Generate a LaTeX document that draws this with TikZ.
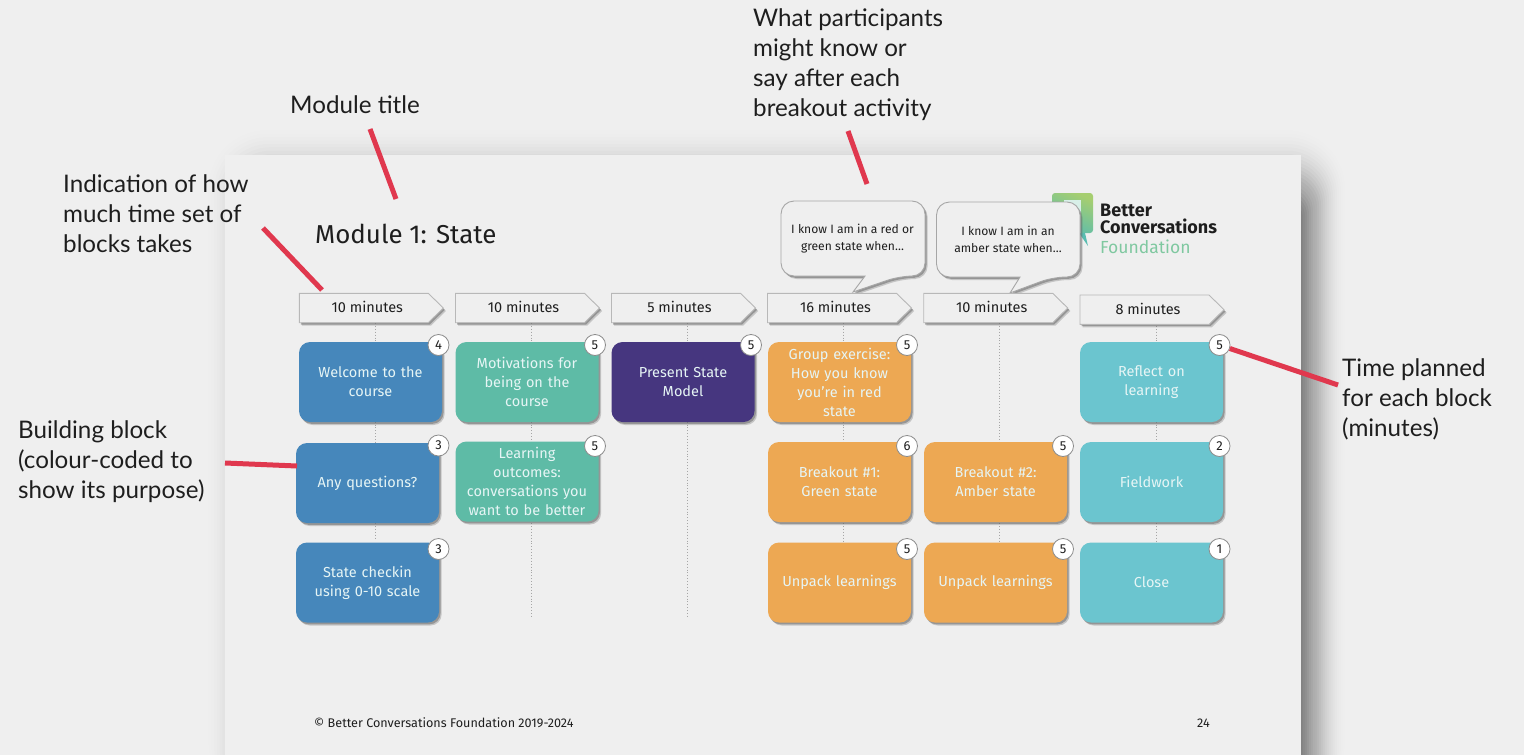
\documentclass[tikz,border=0pt]{standalone}
\usepackage{fontspec}
\setmainfont{Fira Sans}
\newfontfamily\notefont{Lato}
\usetikzlibrary{shadows,calc}
\definecolor{bgc}{HTML}{EFEFEF}
\definecolor{blockblue}{HTML}{4687BB}
\definecolor{blockgreen}{HTML}{5EBBA6}
\definecolor{blockpurple}{HTML}{46367F}
\definecolor{blockorange}{HTML}{EDA853}
\definecolor{blockteal}{HTML}{6BC5CF}
\definecolor{redline}{HTML}{E0384E}
\definecolor{inktext}{HTML}{1E1E1E}
\definecolor{blocktext}{HTML}{E6F5F5}
\definecolor{logoA}{HTML}{A6CE70}
\definecolor{logoB}{HTML}{58BCB0}
\definecolor{logopale}{HTML}{D8EFE8}
\definecolor{logogreen}{HTML}{7FC8A0}
\tikzset{
  x=1pt,y=-1pt,
  softshadow/.style={drop shadow={shadow xshift=2.6pt,shadow yshift=-3pt,fill=black!60,opacity=.3},
    drop shadow={shadow xshift=1.5pt,shadow yshift=-1.8pt,fill=black!60,opacity=.5}},
  blockbox/.style={rounded corners=11pt,minimum width=143pt,minimum height=80pt,inner sep=0pt,outer sep=0pt,
    text width=134pt,align=center,text=blocktext,font=\fontsize{14.5}{19}\selectfont,softshadow},
  badge/.style={circle,fill=white,draw=black!45,line width=.8pt,minimum size=21pt,inner sep=0pt,text=inktext,font=\fontsize{13}{13}\selectfont},
  tagbox/.style={fill=bgc,draw=black!28,line width=.9pt,softshadow},
  taglabel/.style={inner sep=0pt,text=inktext,font=\fontsize{14.5}{17}\selectfont},
  calloutbox/.style={fill=bgc,draw=black!35,line width=.9pt,rounded corners=13pt,softshadow},
  calloutlabel/.style={inner sep=0pt,align=center,text=inktext,font=\fontsize{12.1}{17.2}\selectfont},
  guide/.style={draw=black!35,dotted,line width=.9pt},
  pointer/.style={draw=redline,line width=5pt},
  note/.style={inner sep=0pt,anchor=north west,align=left,text=inktext,font=\notefont\fontsize{24.2}{30}\selectfont},
}
\newcommand{\tagat}[4]{% name, left x, top y, text
  \draw[tagbox] (#2,#3) -- ++(129,0) -- ++(15,14.7) -- ++(-15,14.7) -- ++(-129,0) -- cycle;
  \node[taglabel] (#1) at (#2+68,#3+13.7) {#4};}
\begin{document}
\begin{tikzpicture}
\useasboundingbox (0,0) rectangle (1524,755);
\fill[bgc] (0,0) rectangle (1524,755);
% soft page shadow, built from stacked translucent layers
\foreach \d in {0,2,...,44}{
  \pgfmathsetmacro{\op}{.045-.00095*\d}
  \fill[black,opacity=\op,rounded corners=14pt+\d pt] ({270-1.4*\d},{205-1.7*\d}) rectangle ({1301+\d},800);
}
\fill[bgc] (225,155) rectangle (1301,755);
% logo
\shade[left color=logoA,right color=logoB,shading angle=-25,rounded corners=3pt] (1052,193) rectangle (1093,233);
\fill[logoB] (1079,233) -- (1088,246) -- (1085,233) -- cycle;
\fill[logopale] (1064,200) rectangle (1081,233);
\node[inner sep=0pt,anchor=north west,align=left,font=\fontsize{18}{17.3}\selectfont\bfseries,text=inktext] (logo) at (1100,203.5) {Better\\Conversations};
\node[inner sep=0pt,anchor=north west,font=\fontsize{17.5}{18}\selectfont,text=logogreen] (logoc) at (1100,240) {Foundation};
% title
\node[inner sep=0pt,anchor=west,text=inktext,font=\fontsize{25.9}{30}\selectfont] (title) at (315,234) {Module 1: State};
% guide end points
\foreach \n/\x/\e in {a/375/540,b/531/617,c/687/617,d/843/543,e/999/543,f/1156/543}{
  \coordinate (top\n) at (\x,323);
  \coordinate (bot\n) at (\x,\e);
  \draw[guide] (top\n) -- (bot\n);
}
% callouts
\draw[calloutbox] (781,201) -- (925,201) -- (925,276) -- (900,276) [sharp corners] -- (853,292) -- (865,276) [rounded corners=13pt] -- (781,276) -- cycle;
\node[calloutlabel] (callA) at (852.5,238.5) {I know I am in a red or\\green state when…};
\draw[calloutbox] (936.5,202) -- (1080,202) -- (1080,277) -- (1053,277) [sharp corners] -- (1010,293) -- (1020,277) [rounded corners=13pt] -- (936.5,277) -- cycle;
\node[calloutlabel] (callB) at (1008,239.5) {I know I am in an\\amber state when…};
% tags
\tagat{tagA}{299.3}{293.3}{10 minutes}
\tagat{tagB}{455.5}{293.3}{10 minutes}
\tagat{tagC}{611.5}{293.3}{5 minutes}
\tagat{tagD}{767.5}{293.3}{16 minutes}
\tagat{tagE}{923.7}{293.3}{10 minutes}
\tagat{tagF}{1080}{295}{8 minutes}
% blocks
\node[blockbox,fill=blockblue] (b1) at (370.5,382) {Welcome to the\\course};
\node[blockbox,fill=blockblue] (b2) at (367.5,483) {Any questions?};
\node[blockbox,fill=blockblue] (b3) at (367.5,582.5) {State checkin\\using 0-10 scale};
\node[blockbox,fill=blockgreen] (b4) at (527,382) {Motivations for\\being on the\\course};
\node[blockbox,fill=blockgreen] (b5) at (527,481.5) {Learning\\outcomes:\\conversations you\\want to be better};
\node[blockbox,fill=blockpurple] (b6) at (683,382) {Present State\\Model};
\node[blockbox,fill=blockorange] (b7) at (839.5,382) {Group exercise:\\How you know\\you’re in red\\state};
\node[blockbox,fill=blockorange] (b8) at (839.5,482) {Breakout \#1:\\Green state};
\node[blockbox,fill=blockorange] (b9) at (839.5,582.5) {Unpack learnings};
\node[blockbox,fill=blockorange] (b10) at (995.5,482) {Breakout \#2:\\Amber state};
\node[blockbox,fill=blockorange] (b11) at (995.5,582.5) {Unpack learnings};
\node[blockbox,fill=blockteal] (b12) at (1151.5,382) {Reflect on\\learning};
\node[blockbox,fill=blockteal] (b13) at (1151.5,482) {Fieldwork};
\node[blockbox,fill=blockteal] (b14) at (1151.5,582.5) {Close};
% badges
\foreach \n/\x/\y/\t in {n1/438.5/345/4,n2/438.5/445.5/3,n3/438.5/549/3,n4/595/345/5,n5/595/446/5,n6/751/345/5,n7/907/345/5,n8/907/446/6,n9/907/549/5,n10/1063/446/5,n11/1063/549/5,n12/1219.5/345/5,n13/1219.5/446/2,n14/1219.5/549/1}{
  \node[badge] (\n) at (\x,\y) {\t};
}
% footer
\node[inner sep=0pt,anchor=west,text=inktext,font=\fontsize{12.6}{14}\selectfont] (foot) at (314,723) {© Better Conversations Foundation 2019-2024};
\node[inner sep=0pt,text=inktext,font=\fontsize{12.6}{14}\selectfont] (pageno) at (1203.5,723) {24};
% annotations
\node[note] (nA) at (290,95) {Module title};
\node[note] (nB) at (63,174) {Indication of how\\much time set of\\blocks takes};
\node[note] (nC) at (753,8.5) {What participants\\might know or\\say after each\\breakout activity};
\node[note] (nD) at (18,420) {Building block\\(colour-coded to\\show its purpose)};
\node[note] (nE) at (1342,358.5) {Time planned\\for each block\\(minutes)};
% pointers
\coordinate (pA) at (370,129); \coordinate (qA) at (396,199);
\coordinate (pB) at (263,228); \coordinate (qB) at (322,290);
\coordinate (pC) at (848,131); \coordinate (qC) at (867,184);
\coordinate (pD) at (225,463); \coordinate (qD) at (297,466);
\coordinate (pE) at (1338,385);
\draw[pointer] (pA) -- (qA);
\draw[pointer] (pB) -- (qB);
\draw[pointer] (pC) -- (qC);
\draw[pointer] (pD) -- (qD);
\draw[pointer] (pE) -- (n12);
\end{tikzpicture}
\end{document}
